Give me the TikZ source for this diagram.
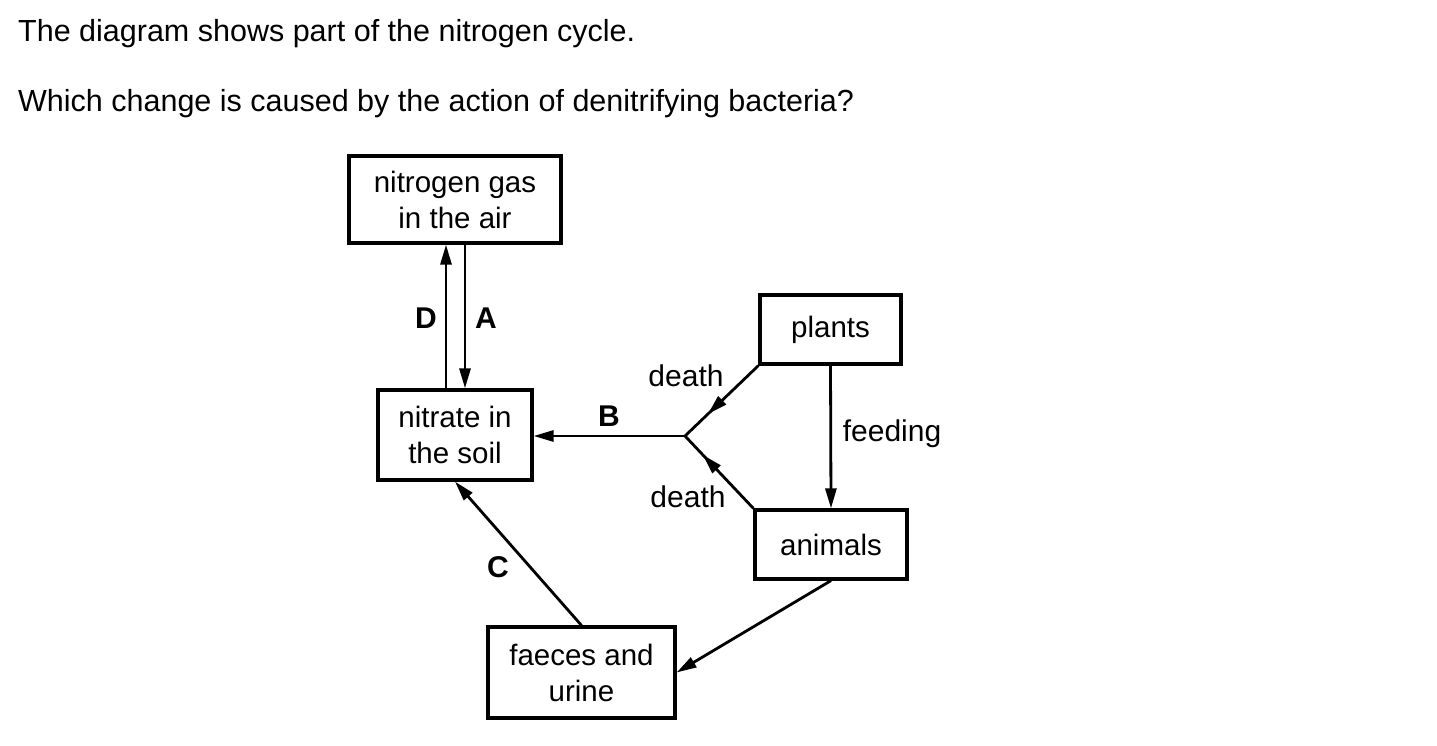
\documentclass[tikz,border=0pt]{standalone}
\usepackage{fontspec}
\setmainfont{Liberation Sans}
\usetikzlibrary{arrows.meta,decorations.markings}
\tikzset{
  box/.style={draw=black, line width=3.2pt, align=center, inner sep=0pt,
    font=\fontsize{29.5}{36}\selectfont},
  conn/.style={line width=2.8pt, -{Triangle[length=20pt,width=11pt]}},
  plainconn/.style={line width=2.8pt},
  midarrow/.style={postaction={decorate,decoration={markings,
    mark=at position #1 with {\arrow{Triangle[length=20pt,width=11pt]}}}}},
  lbl/.style={font=\fontsize{30}{34}\selectfont, inner sep=0pt},
  letter/.style={font=\fontsize{30}{34}\selectfont\bfseries, inner sep=0pt},
  qtext/.style={font=\fontsize{30.5}{34}\selectfont, inner sep=0pt, anchor=base west}
}
\begin{document}
\begin{tikzpicture}[x=1pt,y=-1pt]
\useasboundingbox[fill=white] (0,0) rectangle (1437,746);

\node[qtext] (q1) at (18,42) {The diagram shows part of the nitrogen cycle.};
\node[qtext] (q2) at (18,112) {Which change is caused by the action of denitrifying bacteria?};

\node[box, minimum width=212pt, minimum height=87pt] (gas) at (455,199.5) {nitrogen gas\\in the air};
\node[box, minimum width=154pt, minimum height=90pt] (nitrate) at (455,435) {nitrate in\\the soil};
\node[box, minimum width=141pt, minimum height=69pt] (plants) at (830.5,329.5) {plants};
\node[box, minimum width=152pt, minimum height=69pt] (animals) at (831,544.5) {animals};
\node[box, minimum width=187pt, minimum height=91pt] (faeces) at (581.5,672.5) {faeces and\\urine};

\coordinate (J) at (685,436);

\draw[conn] ([xshift=-9pt]nitrate.north) -- ([xshift=-9pt]gas.south);
\draw[conn] ([xshift=10pt]gas.south) -- ([xshift=10pt]nitrate.north);
\draw[plainconn, midarrow=0.69] (plants.south west) -- (J);
\draw[plainconn, midarrow=0.74] (animals.north west) -- (J);
\draw[conn] (J) -- (nitrate.east |- J);
\draw[conn] (plants.south) -- (animals.north);
\draw[conn] (animals.south) -- (faeces.east);
\draw[conn] (faeces.north) -- (nitrate.south);

\node[letter] (lD) at (426,318) {D};
\node[letter] (lA) at (486,318) {A};
\node[letter] (lB) at (609,416) {B};
\node[letter] (lC) at (498,567) {C};
\node[lbl] (d1) at (686,376) {death};
\node[lbl] (d2) at (688,497) {death};
\node[lbl] (fd) at (892,434) {feeding};
\end{tikzpicture}
\end{document}
